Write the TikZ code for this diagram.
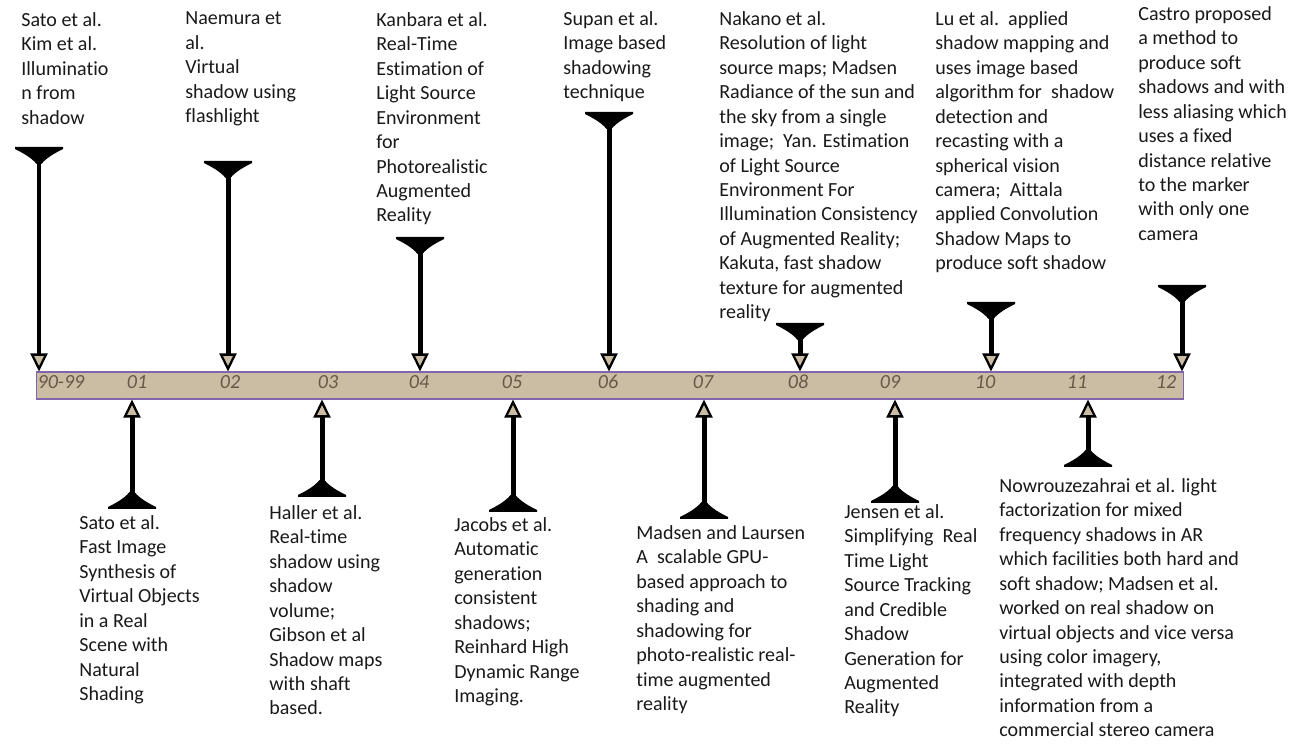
\documentclass[tikz,border=0pt]{standalone}
\usepackage{fontspec}
\setmainfont{Carlito}[Ligatures=NoCommon]
\usetikzlibrary{arrows.meta}
\definecolor{paper}{RGB}{203,189,164}
\definecolor{rim}{RGB}{130,100,170}
\definecolor{yrtext}{RGB}{105,88,72}
\definecolor{ink}{RGB}{25,25,25}
\tikzset{cup/.pic = {\fill (-24,0) -- (24,0) -- (24,2) .. controls (16,6) and (7,11) .. (2.5,17) -- (-2.5,17) .. controls (-7,11) and (-16,6) .. (-24,2) -- cycle;}}

\begin{document}
\begin{tikzpicture}[x=0.02cm, y=-0.02cm,
  ev/.style = {line width=0.1cm, -{Triangle[length=0.36cm, width=0.34cm, fill=paper, line width=1.3pt]}},
  txt/.style = {anchor=north west, inner sep=0pt, align=left, text=ink, font=\fontsize{11.4}{13.94}\selectfont, execute at begin node=\strut},
  yr/.style = {anchor=base, inner sep=0pt, text=yrtext, font=\fontsize{11.4}{13.94}\selectfont\itshape},
  bar/.style = {draw=rim, line width=0.6pt, fill=paper, minimum width=22.96cm, minimum height=0.54cm, inner sep=0pt}]
\useasboundingbox (0,0) rectangle (1296,746);

\node[bar] (tl) at (610,385.5) {};
\node[yr] (y90) at (61,389) {90-99};
\node[yr] (y01) at (137,389) {01};
\node[yr] (y02) at (230,389) {02};
\node[yr] (y03) at (328,389) {03};
\node[yr] (y04) at (419,389) {04};
\node[yr] (y05) at (512,389) {05};
\node[yr] (y06) at (608,389) {06};
\node[yr] (y07) at (703,389) {07};
\node[yr] (y08) at (798,389) {08};
\node[yr] (y09) at (890,389) {09};
\node[yr] (y10) at (985,389) {10};
\node[yr] (y11) at (1077,389) {11};
\node[yr] (y12) at (1166,389) {12};

\node[txt] (t1) at (21,11.8) {Sato et al.\\Kim et al.\\Illuminatio\\n from\\shadow};
\node[txt] (t2) at (185,11.8) {Naemura et\\al.\\Virtual\\shadow using\\flashlight};
\node[txt] (t3) at (376,11.8) {Kanbara et al.\\Real-Time\\Estimation of\\Light Source\\Environment\\for\\Photorealistic\\Augmented\\Reality};
\node[txt] (t4) at (563,10.8) {Supan et al.\\Image based\\shadowing\\technique};
\node[txt] (t5) at (719,10.8) {Nakano et al.\\Resolution of light\\source maps; Madsen\\Radiance of the sun and\\the sky from a single\\image;\ \ Yan. Estimation\\of Light Source\\Environment For\\Illumination Consistency\\of Augmented Reality;\\Kakuta, fast shadow\\texture for augmented\\reality};
\node[txt] (t6) at (935,10.8) {Lu et al.\ \ applied\\shadow mapping and\\uses image based\\algorithm for\ \ shadow\\detection and\\recasting with a\\spherical vision\\camera;\ \ Aittala\\applied Convolution\\Shadow Maps to\\produce soft shadow};
\node[txt] (t7) at (1138,5.8) {Castro proposed\\a method to\\produce soft\\shadows and with\\less aliasing which\\uses a fixed\\distance relative\\to the marker\\with only one\\camera};

\node[txt] (b1) at (79,514.8) {Sato et al.\\Fast Image\\Synthesis of\\Virtual Objects\\in a Real\\Scene with\\Natural\\Shading};
\node[txt] (b2) at (269,504.8) {Haller et al.\\Real-time\\shadow using\\shadow\\volume;\\Gibson et al\\Shadow maps\\with shaft\\based.};
\node[txt] (b3) at (454,516.8) {Jacobs et al.\\Automatic\\generation\\consistent\\shadows;\\Reinhard High\\Dynamic Range\\Imaging.};
\node[txt] (b4) at (636,524.8) {Madsen and Laursen\\A\ \ scalable GPU-\\based approach to\\shading and\\shadowing for\\photo-realistic real-\\time augmented\\reality};
\node[txt] (b5) at (844,503.8) {Jensen et al.\\Simplifying\ \ Real\\Time Light\\Source Tracking\\and Credible\\Shadow\\Generation for\\Augmented\\Reality};
\node[txt] (b6) at (999,477.8) {Nowrouzezahrai et al. light\\factorization for mixed\\frequency shadows in AR\\which facilities both hard and\\soft shadow; Madsen et al.\\worked on real shadow on\\virtual objects and vice versa\\using color imagery,\\integrated with depth\\information from a\\commercial stereo camera};

\coordinate (a1) at (39,147);
\coordinate (a2) at (228,161);
\coordinate (a3) at (420,237);
\coordinate (a4) at (609,112);
\coordinate (a5) at (800,323);
\coordinate (a6) at (991,302);
\coordinate (a7) at (1182,285);
\coordinate (c1) at (132,509);
\coordinate (c2) at (322,497);
\coordinate (c3) at (513,512);
\coordinate (c4) at (704,519);
\coordinate (c5) at (895,503);
\coordinate (c6) at (1088,467);

\foreach \i in {1,...,7} {
  \pic at (a\i) {cup};
  \draw[ev] (a\i) -- (a\i |- tl.north);
}
\foreach \i in {1,...,6} {
  \pic[yscale=-1] at (c\i) {cup};
  \draw[ev] (c\i) -- (c\i |- tl.south);
}
\end{tikzpicture}
\end{document}
